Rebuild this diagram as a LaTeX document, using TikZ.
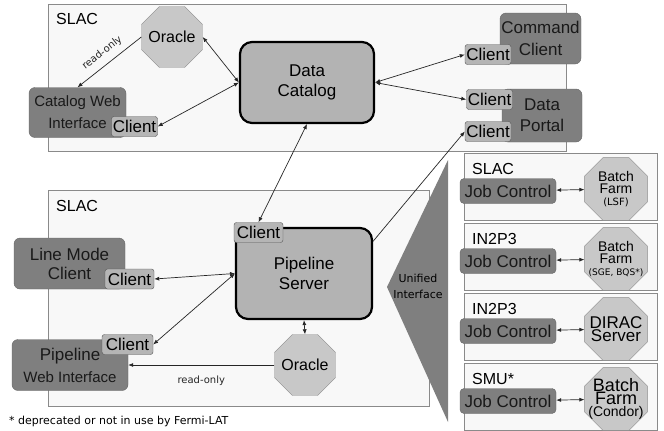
\documentclass[tikz,border=0pt]{standalone}
\usepackage{fontspec}
\setmainfont{Liberation Sans}
\newfontfamily\dejavu{DejaVu Sans}
\usetikzlibrary{shapes.geometric,arrows.meta}
\definecolor{panelfill}{HTML}{F8F8F8}
\definecolor{panelline}{HTML}{8A8A8A}
\definecolor{darkfill}{HTML}{7F7F7F}
\definecolor{darkline}{HTML}{666666}
\definecolor{clientfill}{HTML}{B5B5B5}
\definecolor{clientline}{HTML}{555555}
\definecolor{corefill}{HTML}{B3B3B3}
\definecolor{octofill}{HTML}{C8C8C8}
\definecolor{octoline}{HTML}{8A8A8A}
\newcommand{\fsz}[2]{\fontsize{#1}{#2}\selectfont}
\begin{document}
\begin{tikzpicture}[x=1pt,y=-1pt,
  panel/.style={draw=panelline,fill=panelfill,line width=0.8pt},
  darkbox/.style={draw=darkline,fill=darkfill,rounded corners=6pt,align=center,inner sep=0pt,text=black!90,font=\fsz{17}{22}},
  clientbox/.style={draw=clientline,fill=clientfill,rounded corners=2.5pt,inner sep=1pt,minimum width=46,minimum height=20,font=\fsz{17}{20}},
  corebox/.style={draw=black,line width=2.2pt,fill=corefill,rounded corners=12pt,align=center,font=\fsz{17}{20}},
  octo/.style={regular polygon,regular polygon sides=8,draw=octoline,fill=octofill,inner sep=0pt},
  link/.style={line width=0.7pt,black!85,{Latex[length=5pt,width=4pt]}-{Latex[length=5pt,width=4pt]}},
  oneway/.style={line width=0.7pt,black!85,-{Latex[length=5pt,width=4pt]}},
  sitelabel/.style={anchor=west,inner sep=0pt,font=\fsz{16}{16}},
  small/.style={font=\dejavu\fsz{10}{10}}]
  \useasboundingbox (0,0) rectangle (664,431);
  % top SLAC site
  \draw[panel] (48,4) rectangle (566,151);
  \node[sitelabel] (slactop) at (56,19) {SLAC};
  \node[octo,minimum size=66] (ora1) at (172,37) {};
  \node[font=\fsz{16}{16}] (ora1t) at (ora1) {Oracle};
  \node[corebox,minimum width=134,minimum height=81] (dcat) at (307,82.5) {Data\\Catalog};
  \node[darkbox,minimum width=97,minimum height=50,font=\fsz{15}{22}] (cwi) at (77.5,112.5) {Catalog Web\\Interface};
  \node[clientbox] (cwicl) at (134.5,126.5) {Client};
  \node[darkbox,minimum width=81,minimum height=51] (cmd) at (540.5,38.5) {Command\\Client};
  \node[clientbox] (cmdcl) at (488,54.5) {Client};
  \node[darkbox,minimum width=80,minimum height=53,font=\fsz{17}{21}] (portal) at (542,115.5) {Data\\Portal};
  \node[clientbox] (pcl1) at (489.5,99.5) {Client};
  \node[clientbox] (pcl2) at (488,131.5) {Client};
  % bottom SLAC site
  \draw[panel] (48,190) rectangle (429,406);
  \node[sitelabel] (slacbot) at (56,206) {SLAC};
  \node[corebox,minimum width=136,minimum height=91] (pls) at (304,273.5) {Pipeline\\Server};
  \node[clientbox,minimum width=49] (plscl) at (258.5,232.5) {Client};
  \node[darkbox,minimum width=111,minimum height=51,font=\fsz{17}{19}] (lmc) at (69.5,263.5) {Line Mode\\Client};
  \node[clientbox,minimum width=49] (lmccl) at (129.5,279) {Client};
  \node[darkbox,minimum width=116,minimum height=51] (pwi) at (70,365) {Pipeline\\\fsz{15}{22}Web Interface};
  \node[clientbox,minimum width=51] (pwicl) at (127.5,344.5) {Client};
  \node[octo,minimum size=66] (ora2) at (305,365) {};
  \node[font=\fsz{16}{16}] (ora2t) at (ora2) {Oracle};
  % unified interface
  \fill[darkfill] (448,160) -- (387,287) -- (448,422) -- cycle;
  \node[align=center,font=\dejavu\fsz{11}{16}] (uni) at (418,286) {Unified\\Interface};
  % job control sites
  \foreach \t/\site/\farm [count=\i] in {
      153/SLAC/{\fsz{14}{14}Batch\\\fsz{14}{14}Farm\\\dejavu\fsz{10}{14}(LSF)},
      223/IN2P3/{\fsz{14}{13}Batch\\\fsz{14}{13}Farm\\\dejavu\fsz{9}{12}(SGE, BQS*)},
      293/IN2P3/{\fsz{17}{20}DIRAC\\\fsz{17}{20}Server},
      363/SMU*/{\fsz{18}{16}Batch\\\fsz{18}{16}Farm\\\fsz{14}{13}(Condor)}} {
    \draw[panel] (464,\t) rectangle (657,\t+67);
    \node[sitelabel] (site\i) at (472,\t+16) {\site};
    \node[darkbox,minimum width=96,minimum height=25,rounded corners=4pt] (jc\i) at (508,\t+38) {Job Control};
    \node[octo,minimum size=68] (farm\i) at (616,\t+36) {};
    \node[align=center] (farmtxt\i) at (farm\i) {\farm};
    \draw[link] (jc\i) -- (farm\i);
  }
  % connectors
  \draw[link] (ora1.east) -- (dcat.west);
  \draw[link] (dcat.west) -- (cwicl.east);
  \draw[oneway] (ora1.west) -- node[small,sloped,above=3pt] {read-only} (cwi.north);
  \draw[link] (dcat.east) -- (cmdcl.west);
  \draw[link] (dcat.east) -- (pcl1.west);
  \draw[link] (dcat.south) -- (plscl.north);
  \draw[oneway] (pls.25) -- (pcl2.west);
  \draw[link] (lmccl.east) -- (pls.west);
  \draw[link] (pwicl.east) -- (pls.west);
  \draw[link] (pls.south) -- (ora2.north);
  \draw[oneway] (ora2.west) -- node[small,below=7pt] {read-only} (pwi.east);
  % footnote
  \node[anchor=west,inner sep=0pt,font=\dejavu\fsz{11}{11}] (note) at (9,421) {* deprecated or not in use by Fermi-LAT};
\end{tikzpicture}
\end{document}
